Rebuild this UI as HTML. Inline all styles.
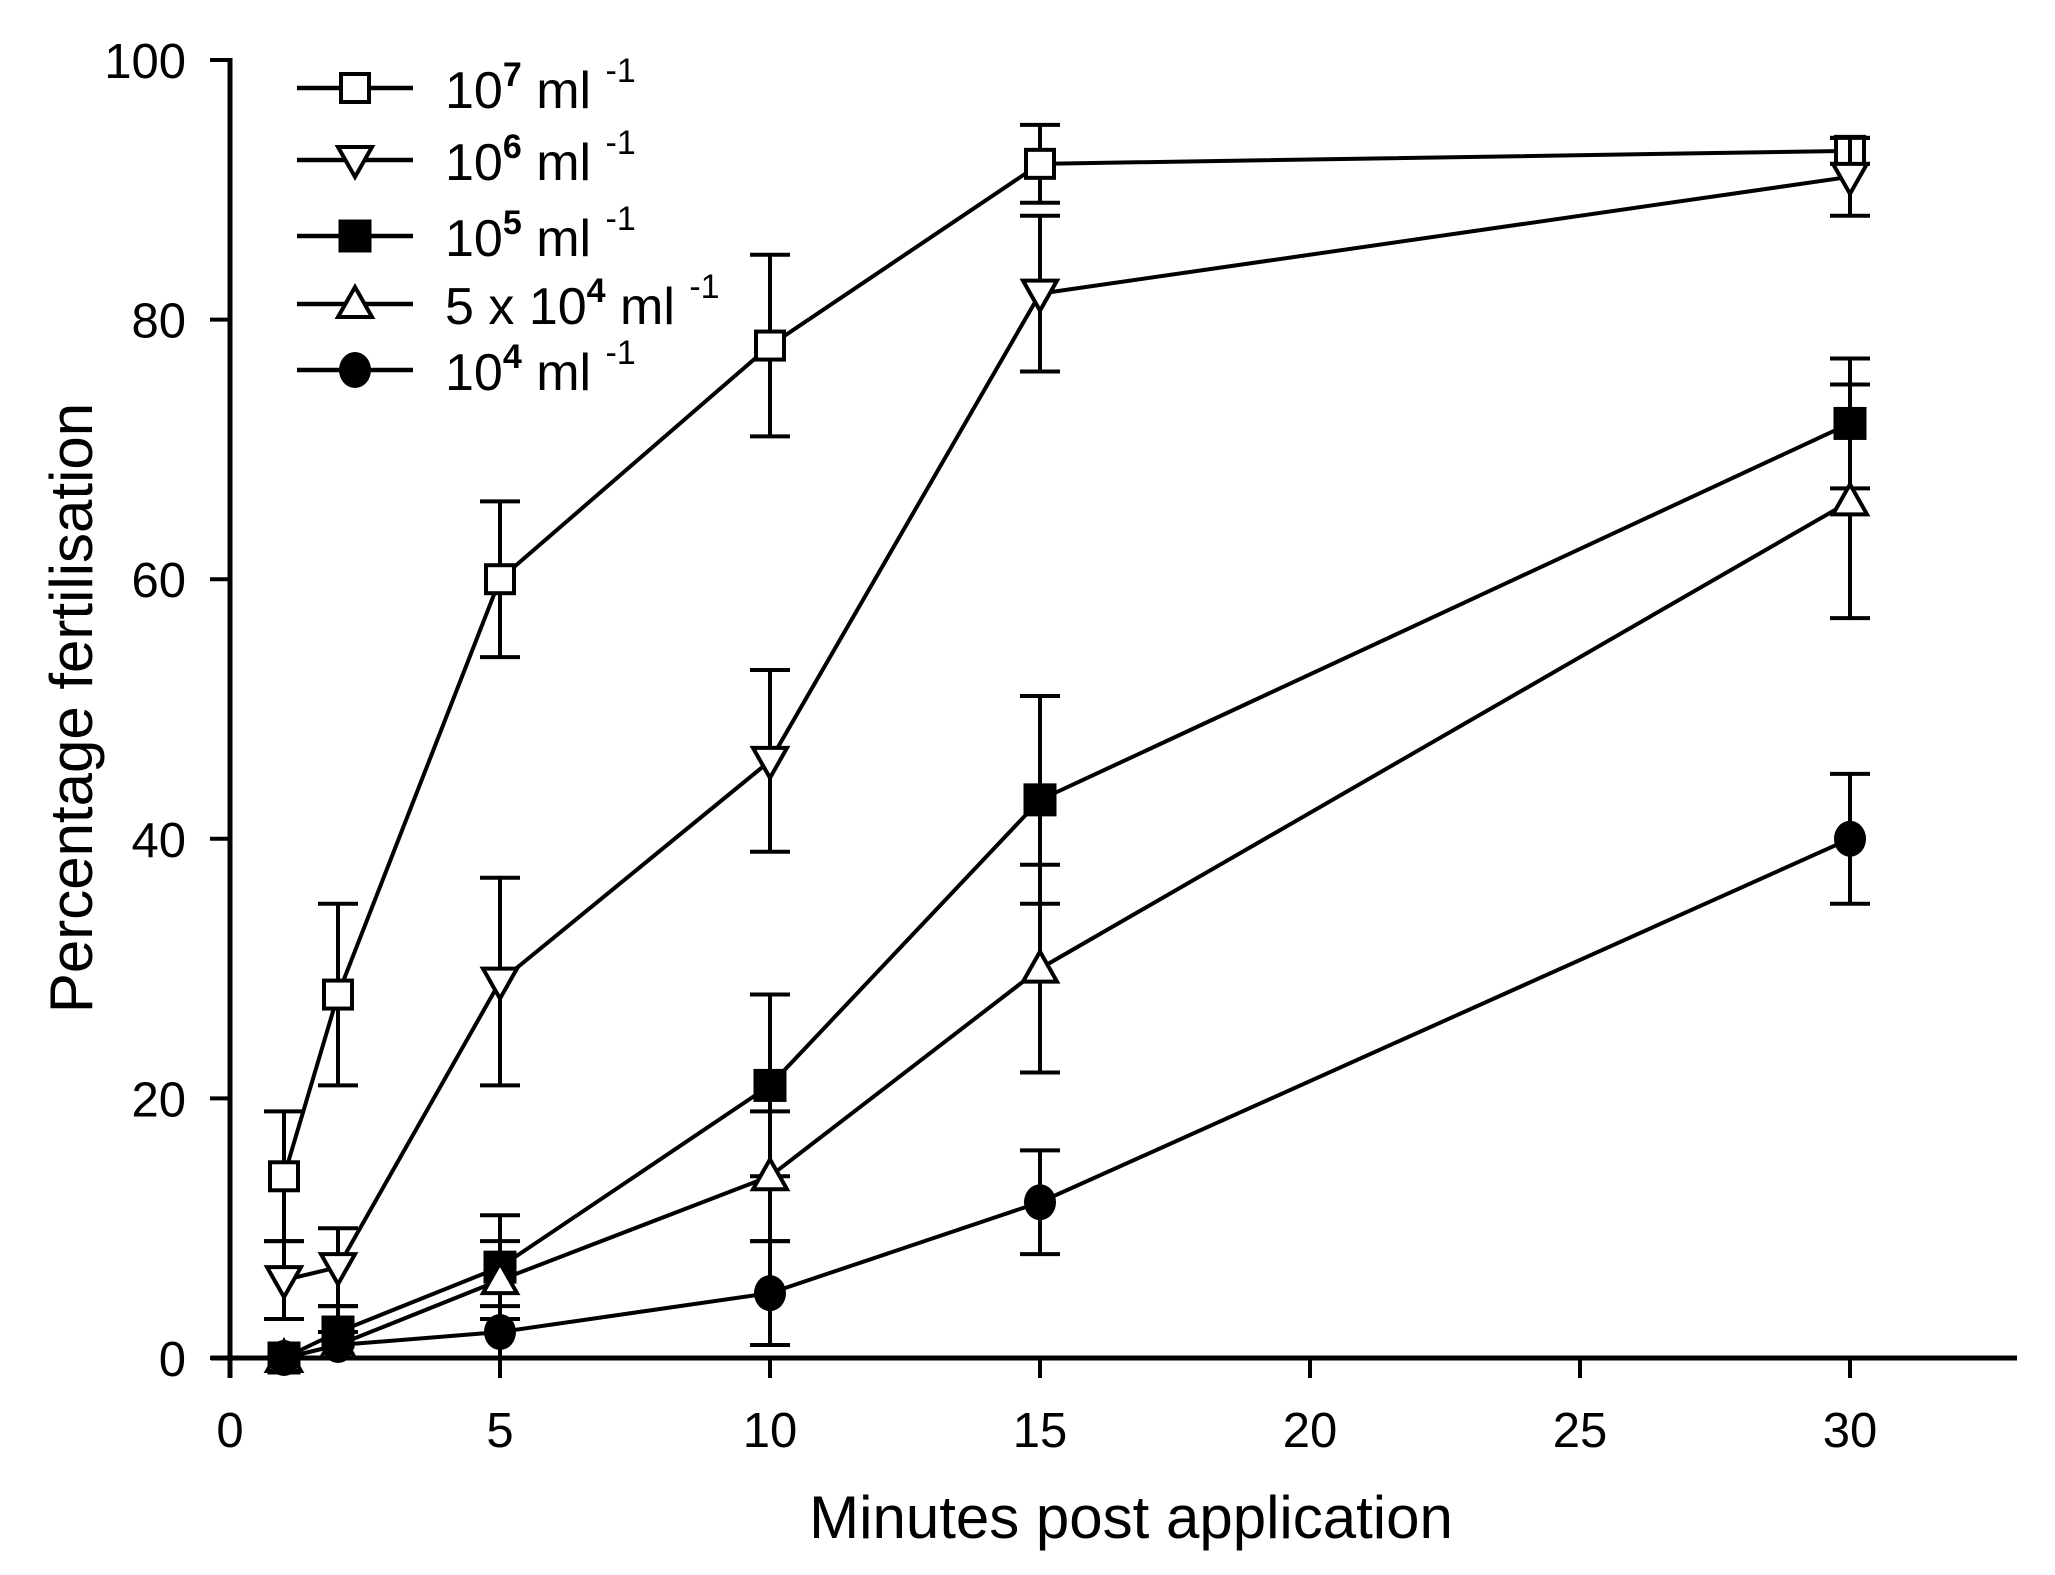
<!DOCTYPE html>
<html><head><meta charset="utf-8"><style>
html,body{margin:0;padding:0;background:#fff;}
svg{display:block;font-family:"Liberation Sans",sans-serif;}
</style></head><body>
<svg id="chart" width="2055" height="1575" viewBox="0 0 2055 1575" xmlns="http://www.w3.org/2000/svg">
<g id="axes"></g>
<g id="series"></g>
<g id="legend"></g>
<text x="1131" y="1538" font-size="60" text-anchor="middle">Minutes post application</text>
<text x="0" y="0" font-size="60" text-anchor="middle" transform="translate(92,708) rotate(-90)">Percentage fertilisation</text>
</svg>
<script>
const xTicks = [0, 5, 10, 15, 20, 25, 30];
const yTicks = [0, 20, 40, 60, 80, 100];
const times = [1, 2, 5, 10, 15, 30];
const s7 = [14, 28, 60, 78, 92, 93];
const e7 = [5, 7, 6, 7, 3, 1];
const s6 = [6, 7, 29, 46, 82, 91];
const e6 = [3, 3, 8, 7, 6, 3];
const s5 = [0, 2, 7, 21, 43, 72];
const e5 = [0, 2, 4, 7, 8, 5];
const s54 = [0, 1, 6, 14, 30, 66];
const e54 = [0, 1, 3, 5, 8, 9];
const s4 = [0, 1, 2, 5, 12, 40];
const e4 = [0, 0, 2, 4, 4, 5];
const legendLabels = [["10","7"," ml ","-1"],["10","6"," ml ","-1"],["10","5"," ml ","-1"],["5 x 10","4"," ml ","-1"],["10","4"," ml ","-1"]];

const NS = "http://www.w3.org/2000/svg";
const X = v => 230 + v * 54;
const Y = v => 1358 - v * 12.98;
function mk(tag, attrs, parent){const e=document.createElementNS(NS,tag);for(const k in attrs)e.setAttribute(k,attrs[k]);parent.appendChild(e);return e;}

const axes = document.getElementById('axes');
let a = mk('line',{x1:211,y1:1358,x2:2017,y2:1358,stroke:'#000','stroke-width':5},axes);


a = mk('line',{x1:230,y1:58,x2:230,y2:1378,stroke:'#000','stroke-width':5},axes);


xTicks.forEach(t=>{
  const l=mk('line',{x1:X(t),y1:1358,x2:X(t),y2:1378,stroke:'#000','stroke-width':4},axes);
  
  
  const tx=mk('text',{x:X(t),y:1447,'font-size':49,'text-anchor':'middle'},axes);
  tx.textContent=t;
  
  
});
yTicks.forEach(t=>{
  const l=mk('line',{x1:210,y1:Y(t),x2:230,y2:Y(t),stroke:'#000','stroke-width':4},axes);
  
  
  const tx=mk('text',{x:186,y:Y(t)+18,'font-size':49,'text-anchor':'end'},axes);
  tx.textContent=t;
  
  
});

function marker(type,cx,cy,parent){
  let m;
  if(type==='sq') m=mk('rect',{x:cx-14,y:cy-14,width:28,height:28,fill:'#fff',stroke:'#000','stroke-width':4},parent);
  else if(type==='sqf') m=mk('rect',{x:cx-15,y:cy-15,width:30,height:30,fill:'#000',stroke:'#000','stroke-width':3},parent);
  else if(type==='dn') m=mk('polygon',{points:`${cx-17},${cy-13} ${cx+17},${cy-13} ${cx},${cy+17}`,fill:'#fff',stroke:'#000','stroke-width':4},parent);
  else if(type==='up') m=mk('polygon',{points:`${cx-17},${cy+13} ${cx+17},${cy+13} ${cx},${cy-17}`,fill:'#fff',stroke:'#000','stroke-width':4},parent);
  else m=mk('ellipse',{cx:cx,cy:cy,rx:16,ry:18,fill:'#000'},parent);
  return m;
}

const seriesList=[[s7,e7,'sq','series-1e7'],[s6,e6,'dn','series-1e6'],[s5,e5,'sqf','series-1e5'],[s54,e54,'up','series-5e4'],[s4,e4,'ci','series-1e4']];
const sg=document.getElementById('series');
seriesList.forEach(([vals,errs,type,name])=>{
  const g=mk('g',{},sg);
  
  
  vals.forEach((v,i)=>{
    if(errs[i]>0){
      const t=times[i];
      const eb=mk('path',{d:`M${X(t)},${Y(v+errs[i])}V${Y(v-errs[i])}M${X(t)-20},${Y(v+errs[i])}h40M${X(t)-20},${Y(v-errs[i])}h40`,stroke:'#000','stroke-width':4,fill:'none'},g);
      
      
    }
  });
  const pl=mk('polyline',{points:vals.map((v,i)=>X(times[i])+','+Y(v)).join(' '),stroke:'#000','stroke-width':4,fill:'none'},g);
  
  
  vals.forEach((v,i)=>{
    const m=marker(type,X(times[i]),Y(v),g);
    
    
  });
});

const lg=document.getElementById('legend');
const rowsY=[88,160,236,304,370];
seriesList.forEach(([v,e,type,name],i)=>{
  const g=mk('g',{},lg);
  
  
  mk('line',{x1:297,y1:rowsY[i],x2:413,y2:rowsY[i],stroke:'#000','stroke-width':4.5},g);
  marker(type,355,rowsY[i],g);
  const tx=mk('text',{x:445,y:rowsY[i]+20,'font-size':52},g);
  const p=legendLabels[i];
  const t1=mk('tspan',{},tx);t1.textContent=p[0];
  const t2=mk('tspan',{'font-size':34,dy:-22,'font-weight':'bold'},tx);t2.textContent=p[1];
  const t3=mk('tspan',{dy:22},tx);t3.textContent=p[2];
  const t4=mk('tspan',{'font-size':34,dy:-26},tx);t4.textContent=p[3];
});
</script>
</body></html>
